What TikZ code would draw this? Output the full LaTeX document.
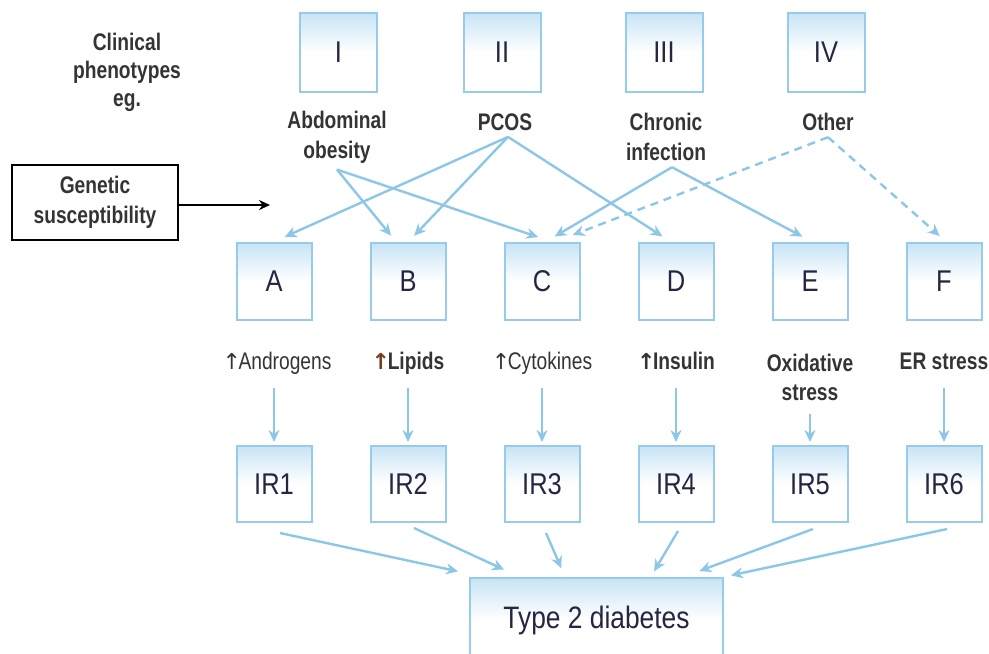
\documentclass[tikz,border=0pt]{standalone}
\usepackage{fontspec}
\setmainfont{Liberation Sans}
\newfontfamily\condfont[FakeStretch=0.85]{Liberation Sans}
\newfontfamily\narrowfont[FakeStretch=0.8]{Liberation Sans}
\newfontfamily\upglyphfont{DejaVu Sans}
\usetikzlibrary{arrows.meta,calc}

\definecolor{boxline}{RGB}{150,204,234}
\definecolor{boxtop}{RGB}{200,228,245}
\definecolor{arrowblue}{RGB}{140,199,232}
\definecolor{navy}{RGB}{38,38,66}
\definecolor{lblgray}{RGB}{52,52,52}
\definecolor{lipidbrown}{RGB}{120,60,30}

\newcommand{\up}{{\upglyphfont\fontsize{11}{13}\selectfont\char"2191}\kern-1.2pt}

\tikzset{
  pbox/.style={draw=boxline, line width=1pt, top color=boxtop, bottom color=white,
    middle color=white, minimum width=38.5pt, minimum height=39.5pt, inner sep=0pt,
    text=navy, font=\condfont\fontsize{15}{18}\selectfont},
  mbox/.style={pbox, minimum width=37.5pt, minimum height=38.5pt},
  lbl/.style={font=\narrowfont\bfseries\fontsize{12}{15}\selectfont, text=lblgray,
    align=center, inner sep=3pt},
  lblreg/.style={lbl, font=\narrowfont\fontsize{12}{15}\selectfont},
  rowlbl/.style={text height=9pt, text depth=2.5pt},
  conn/.style={draw=arrowblue, line width=1.2pt, -{Stealth[length=6pt,width=5.5pt]},
    shorten >=1.5pt},
  dconn/.style={conn, dash pattern=on 4pt off 3pt},
  garr/.style={draw=black, line width=1pt, -{Stealth[length=5.5pt,width=5pt]}},
}

\begin{document}
\begin{tikzpicture}[x=0.5pt,y=-0.5pt]
  \useasboundingbox (0,0) rectangle (989,653);
  \fill[white] (0,0) rectangle (989,653);
  \clip (0,0) rectangle (989,653);

  % clinical phenotypes
  \node[lbl, font=\narrowfont\bfseries\fontsize{12}{14}\selectfont] (clin) at (127,72)
    {Clinical\\phenotypes\\eg.};
  \node[pbox] (p1) at (338.5,52.5) {I};
  \node[pbox] (p2) at (502,52.5) {II};
  \node[pbox] (p3) at (664,52.5) {III};
  \node[pbox] (p4) at (826,52.5) {IV};

  \node[lbl] (ab)  at (337,137) {Abdominal\\obesity};
  \node[lbl] (pc)  at (505,122) {PCOS};
  \node[lbl] (chr) at (666,137) {Chronic\\infection};
  \node[lbl] (oth) at (828,122) {Other};

  % genetic susceptibility
  \node[lbl, draw=black, line width=1pt, minimum width=83pt, minimum height=37.5pt]
    (gs) at (95,202.5) {Genetic\\susceptibility};
  \coordinate (gsend) at (270,205);
  \draw[garr] (gs.east |- gsend) -- (gsend);

  % mechanisms
  \foreach \n/\t/\x in {A/A/274, B/B/408, C/C/542, D/D/676, E/E/810, F/F/944}{
    \node[mbox] (\n) at (\x,281.5) {\t};
  }
  \node[lblreg, rowlbl] (la) at (277,363) {\up Androgens};
  \node[lbl, rowlbl]    (lb) at (408,363) {{\color{lipidbrown}\up}Lipids};
  \node[lblreg, rowlbl] (lc) at (542,363) {\up Cytokines};
  \node[lbl, rowlbl]    (ld) at (676,363) {\up Insulin};
  \node[lbl, font=\narrowfont\bfseries\fontsize{12}{14.5}\selectfont] (le) at (810,377.5)
    {Oxidative\\stress};
  \node[lbl, rowlbl]    (lf) at (944,363) {ER stress};

  % insulin resistance types
  \foreach \n/\x in {1/274, 2/408, 3/542, 4/676, 5/810, 6/944}{
    \node[mbox, minimum height=38pt] (ir\n) at (\x,484) {IR\n};
  }

  % type 2 diabetes
  \node[pbox, minimum width=126.5pt, minimum height=42pt,
    font=\condfont\fontsize{15.5}{18}\selectfont] (t2d) at (596.5,620) {Type 2 diabetes};

  % phenotype -> mechanism
  \draw[conn] (ab.south) -- ($(B.north)+(-7.5pt,2pt)$);
  \draw[conn] (ab.south) -- ($(C.north)+(-0.5pt,2pt)$);
  \draw[conn] ($(pc.south)+(1.5pt,0)$) -- ($(A.north)+(4pt,2pt)$);
  \draw[conn] ($(pc.south)+(1.5pt,0)$) -- ($(B.north)+(2pt,2pt)$);
  \draw[conn] ($(pc.south)+(1.5pt,0)$) -- ($(D.north)+(-5.5pt,2pt)$);
  \draw[conn] ($(chr.south)+(3pt,0)$) -- ($(C.north)+(5pt,2pt)$);
  \draw[conn] ($(chr.south)+(3pt,0)$) -- ($(E.north)+(-2.5pt,2pt)$);
  \draw[dconn] (oth.south) -- ($(C.north)+(14pt,3pt)$);
  \draw[dconn] (oth.south) -- ($(F.north)+(-1pt,2pt)$);

  % mechanism -> insulin resistance
  \foreach \l/\r in {la/ir1, lb/ir2, lc/ir3, ld/ir4, le/ir5, lf/ir6}{
    \draw[conn, shorten <=3.5pt] (\l.south -| \r.north) -- (\r.north);
  }

  % insulin resistance -> type 2 diabetes
  \draw[conn] ($(ir1.south)+(3pt,-5pt)$)   -- ($(t2d.north west)+(-4pt,2.5pt)$);
  \draw[conn] ($(ir2.south)+(3pt,-2.5pt)$) -- ($(t2d.north west)+(19pt,3pt)$);
  \draw[conn] ($(ir3.south)+(2pt,-5pt)$)   -- ($(t2d.north)+(-17pt,3pt)$);
  \draw[conn] ($(ir4.south)+(1pt,-4pt)$)   -- ($(t2d.north)+(28pt,1.5pt)$);
  \draw[conn] ($(ir5.south)+(1.5pt,-3pt)$) -- ($(t2d.north)+(50pt,2.5pt)$);
  \draw[conn] ($(ir6.south)+(1.5pt,-3pt)$) -- ($(t2d.north east)+(2pt,0.5pt)$);
\end{tikzpicture}
\end{document}
